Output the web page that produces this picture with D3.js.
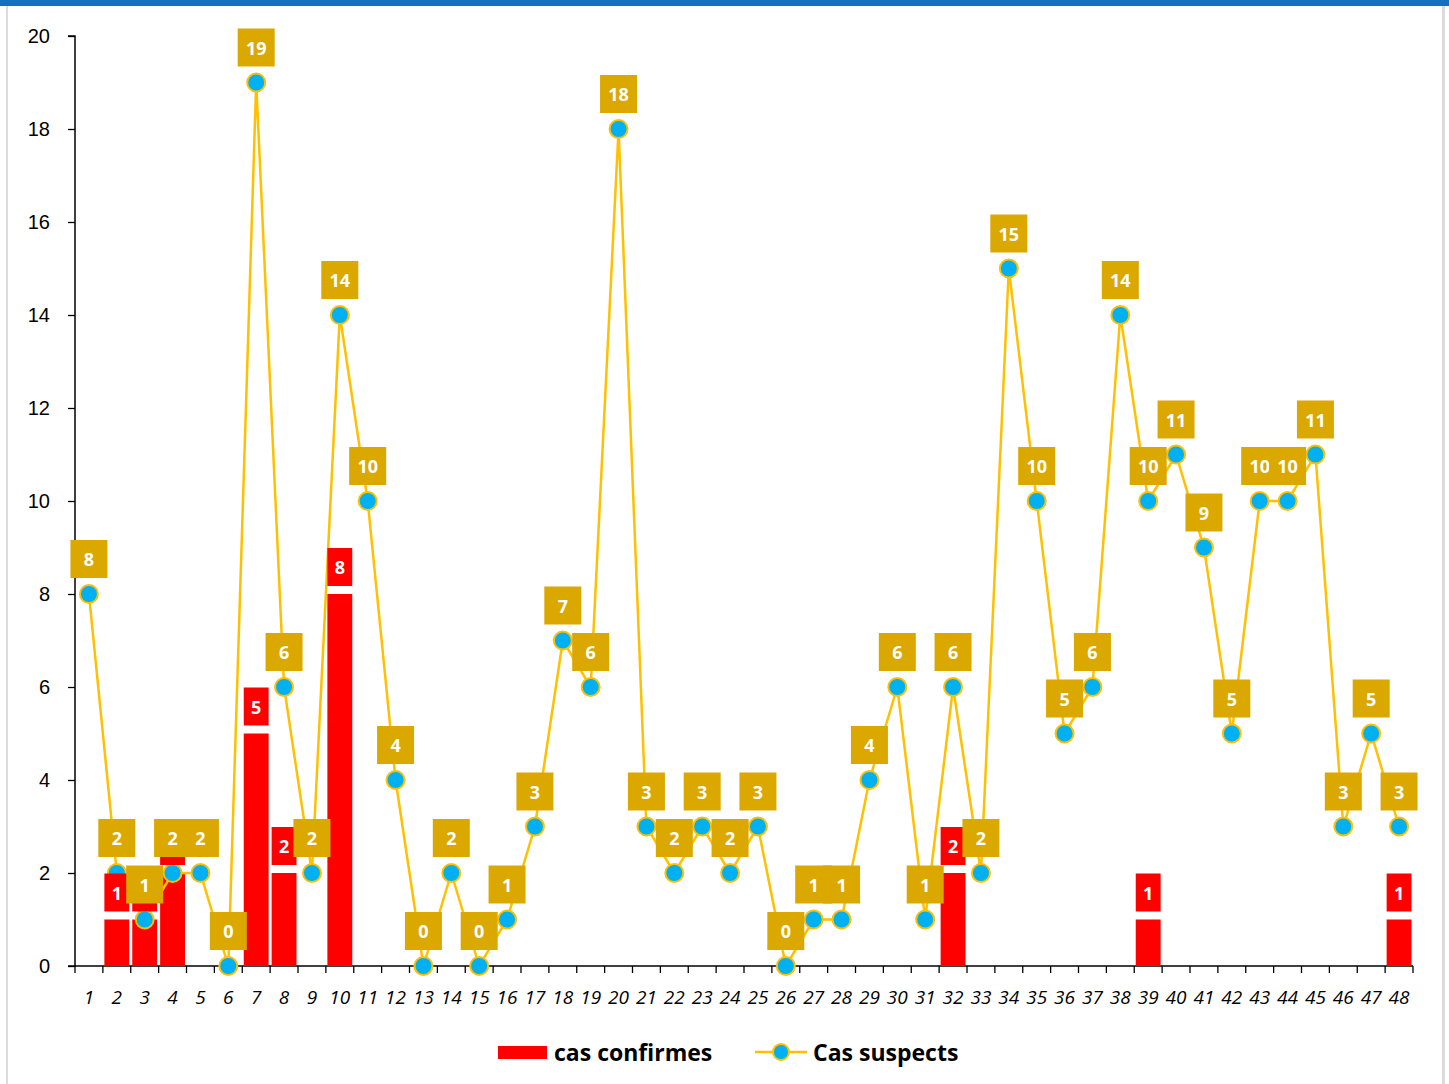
<!DOCTYPE html>
<html>
<head>
<meta charset="utf-8">
<script src="https://cdn.jsdelivr.net/npm/d3@7"></script>
<style>
  body { margin: 0; background: #fff; }
  svg { display: block; font-family: "Open Sans", "Noto Sans", sans-serif; }
</style>
</head>
<body>
<svg id="chart" width="1449" height="1084"></svg>
<script>
// categories 1..48
var categories = d3.range(1, 49);

// cas suspects per category
var suspects = [8, 2, 1, 2, 2, 0, 19, 6, 2, 14, 10, 4, 0, 2, 0, 1, 3, 7, 6, 18,
    3, 2, 3, 2, 3, 0, 1, 1, 4, 6, 1, 6, 2, 15, 10, 5, 6, 14, 10, 11,
    9, 5, 10, 10, 11, 3, 5, 3];

// cas confirmes (only categories with a bar)
var confirmedCats = [2, 3, 4, 7, 8, 10, 32, 39, 48];
var confirmedVals = [1, 1, 2, 5, 2, 8, 2, 1, 1];

var yTicks = [0, 2, 4, 6, 8, 10, 12, 14, 16, 18, 20];

var svg = d3.select("#chart");

// frame
svg.append("rect").attr("x", 0).attr("y", 0).attr("width", 1449).attr("height", 6).attr("fill", "#1170C1");
svg.append("rect").attr("x", 6).attr("y", 6).attr("width", 2).attr("height", 1078).attr("fill", "#dcdcdc");
svg.append("rect").attr("x", 1442).attr("y", 6).attr("width", 3).attr("height", 1078).attr("fill", "#dcdcdc");

var x = d3.scaleBand().domain(categories).range([75, 1413]).padding(0);
var y = d3.scaleLinear().domain([0, 20]).range([966, 36]);

// y axis
var yAxis = svg.append("g").attr("transform", "translate(75,0)")
    .call(d3.axisLeft(y).tickValues(yTicks).tickSize(7).tickPadding(18));
yAxis.select(".domain").attr("stroke", "#000").attr("stroke-width", 1.5).attr("d", "M-7,36H0V966");
yAxis.selectAll("text").attr("font-size", 20).attr("fill", "#000");
yAxis.selectAll("line").attr("stroke", "#000").attr("stroke-width", 1.3);

// x axis with ticks at category boundaries
var xg = svg.append("g").attr("transform", "translate(0,966)");
xg.append("line").attr("x1", 68).attr("x2", 1413).attr("y1", 0).attr("y2", 0)
    .attr("stroke", "#000").attr("stroke-width", 1.5);
xg.selectAll("line.tk").data(categories.concat([0])).enter().append("line")
    .attr("class", "tk")
    .attr("x1", function (d) { return d === 0 ? 75 : x(d) + x.bandwidth(); })
    .attr("x2", function (d) { return d === 0 ? 75 : x(d) + x.bandwidth(); })
    .attr("y1", 0).attr("y2", 7)
    .attr("stroke", "#000").attr("stroke-width", 1.3);
xg.selectAll("text").data(categories).enter().append("text")
    .attr("x", function (d) { return x(d) + x.bandwidth() / 2; })
    .attr("y", 38)
    .attr("text-anchor", "middle")
    .attr("font-size", 19)
    .attr("font-style", "italic")
    .attr("fill", "#000")
    .text(function (d) { return d; });

// bars
var bars = confirmedCats.map(function (c, i) { return { cat: c, value: confirmedVals[i] }; });
svg.append("g").selectAll("rect").data(bars).enter().append("rect")
    .attr("x", function (d) { return x(d.cat) + 1.5; })
    .attr("width", x.bandwidth() - 3)
    .attr("y", function (d) { return y(d.value); })
    .attr("height", function (d) { return y(0) - y(d.value); })
    .attr("fill", "#FF0000");

// suspects line
var pts = categories.map(function (c, i) { return { cat: c, value: suspects[i] }; });
var line = d3.line()
    .x(function (d) { return x(d.cat) + x.bandwidth() / 2; })
    .y(function (d) { return y(d.value); });
svg.append("path").datum(pts).attr("d", line)
    .attr("fill", "none").attr("stroke", "#FFC000").attr("stroke-width", 2.5);
svg.append("g").selectAll("circle").data(pts).enter().append("circle")
    .attr("cx", function (d) { return x(d.cat) + x.bandwidth() / 2; })
    .attr("cy", function (d) { return y(d.value); })
    .attr("r", 9)
    .attr("fill", "#00B0F0")
    .attr("stroke", "#FFC000")
    .attr("stroke-width", 2);

// red bar labels
var rl = svg.append("g").selectAll("g").data(bars).enter().append("g");
rl.append("rect")
    .attr("x", function (d) { return x(d.cat) + 1.5; })
    .attr("width", x.bandwidth() - 3)
    .attr("y", function (d) { return y(d.value) - 46; })
    .attr("height", 38)
    .attr("fill", "#FF0000");
rl.append("text")
    .attr("x", function (d) { return x(d.cat) + x.bandwidth() / 2; })
    .attr("y", function (d) { return y(d.value) - 27; })
    .attr("text-anchor", "middle")
    .attr("dominant-baseline", "central")
    .attr("font-size", 18).attr("font-weight", "bold").attr("fill", "#fff")
    .text(function (d) { return d.value; });

// suspect labels
var sl = svg.append("g").selectAll("g").data(pts).enter().append("g");
sl.append("rect")
    .attr("x", function (d) { return x(d.cat) + x.bandwidth() / 2 - 18.5; })
    .attr("width", 37)
    .attr("y", function (d) { return y(d.value) - 54; })
    .attr("height", 38)
    .attr("fill", "#DBA800");
sl.append("text")
    .attr("x", function (d) { return x(d.cat) + x.bandwidth() / 2; })
    .attr("y", function (d) { return y(d.value) - 35; })
    .attr("text-anchor", "middle")
    .attr("dominant-baseline", "central")
    .attr("font-size", 18).attr("font-weight", "bold").attr("fill", "#fff")
    .text(function (d) { return d.value; });

// legend
var lg = svg.append("g");
lg.append("rect").attr("x", 498).attr("y", 1046).attr("width", 49).attr("height", 13).attr("fill", "#FF0000");
lg.append("text").attr("x", 554).attr("y", 1061).attr("font-size", 23).attr("font-weight", "bold")
    .attr("fill", "#000").text("cas confirmes");
lg.append("line").attr("x1", 755).attr("x2", 807).attr("y1", 1052).attr("y2", 1052)
    .attr("stroke", "#FFC000").attr("stroke-width", 2.5);
lg.append("circle").attr("cx", 781).attr("cy", 1052).attr("r", 8)
    .attr("fill", "#00B0F0").attr("stroke", "#FFC000").attr("stroke-width", 2);
lg.append("text").attr("x", 813).attr("y", 1061).attr("font-size", 23).attr("font-weight", "bold")
    .attr("fill", "#000").text("Cas suspects");
</script>
</body>
</html>
